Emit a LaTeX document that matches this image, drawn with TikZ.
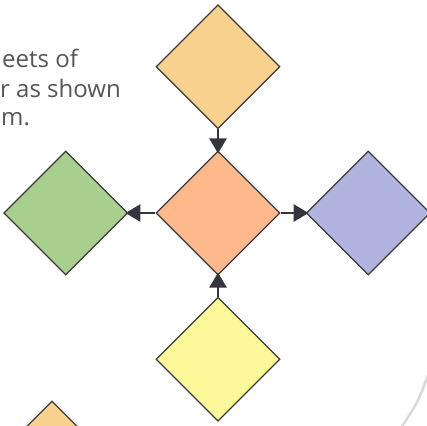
\documentclass[tikz,border=0pt]{standalone}
\usepackage{fontspec}
\setmainfont{Open Sans}
\usepackage{xcolor}
\usetikzlibrary{positioning,arrows.meta,shapes.geometric}
\definecolor{tilehub}{HTML}{FDB98B}
\definecolor{tilenorth}{HTML}{F9D18E}
\definecolor{tilewest}{HTML}{A8CF8E}
\definecolor{tileeast}{HTML}{B2B4E0}
\definecolor{tilesouth}{HTML}{FDF89A}
\definecolor{tileedge}{HTML}{3A3A3C}
\definecolor{tilearrow}{HTML}{35353D}
\definecolor{captiongray}{HTML}{55555A}

\begin{document}
\begin{tikzpicture}[
  x=1pt, y=-1pt,
  kite/.style={diamond, draw=tileedge, line width=1.2pt, minimum width=124pt, minimum height=124pt, inner sep=0pt},
  blurb/.style={anchor=base west, inner sep=0pt, text=captiongray, font=\fontsize{24}{29}\selectfont},
  link/.style={-{Triangle[length=15pt,width=17pt]}, line width=2.8pt, color=tilearrow, shorten >=-3pt}
]
\useasboundingbox (0,0) rectangle (427,425);
\clip (0,0) rectangle (427,425);

% caption, cut off at the left
\node[blurb] (capa) at (2,67) {eets of};
\node[blurb] (capb) at (0,97) {r as shown};
\node[blurb] (capc) at (1,125) {m.};

% tiles
\node[kite, fill=tilehub] (hub) at (218,213) {};
\node[kite, fill=tilenorth, above=21pt of hub] (north) {};
\node[kite, fill=tilewest, left=27pt of hub] (west) {};
\node[kite, fill=tileeast, right=25pt of hub] (east) {};
\node[kite, fill=tilesouth, below=21pt of hub] (south) {};
\node[kite, fill=tilenorth] (corner) at (52,463) {};

\draw[link] (north) -- (hub);
\draw[link] (south) -- (hub);
\draw[link] (hub) -- (west);
\draw[link] (hub) -- (east);

% page edge
\draw[gray!30, line width=2.5pt] (429,372) .. controls (419,400) .. (401,428);
\end{tikzpicture}
\end{document}
